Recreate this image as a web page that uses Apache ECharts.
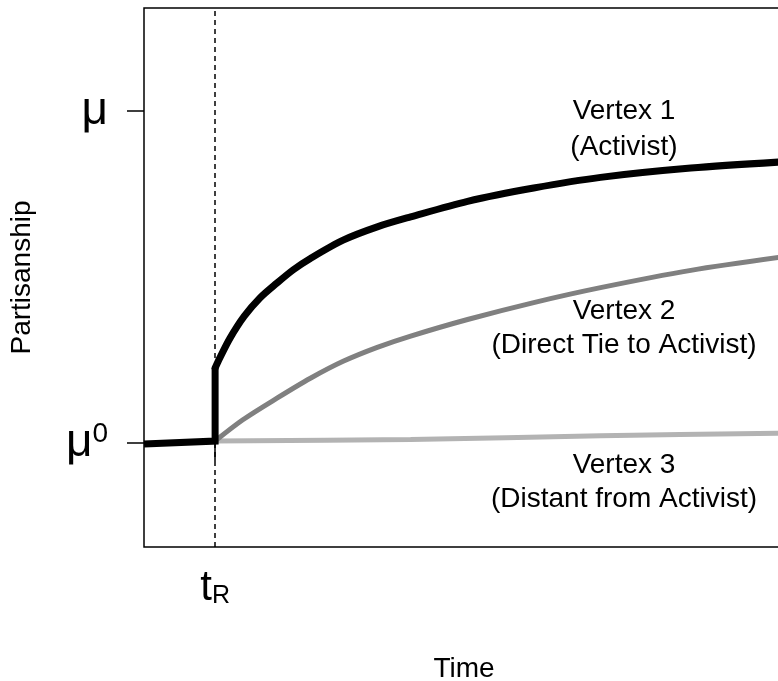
<!DOCTYPE html>
<html>
<head>
<meta charset="utf-8">
<script src="https://cdn.jsdelivr.net/npm/echarts@6/dist/echarts.min.js"></script>
<style>
html,body{margin:0;padding:0;background:#fff;}
#chart{width:778px;height:681px;}
</style>
</head>
<body>
<div id="chart"></div>
<script>
// Time axis: 0 = left edge, 1 = t_R
var tR = 1;
// Partisanship: 0 = mu^0, 1 = mu
var vertex1Step = [[0,-0.003],[1,0.006],[1,0.226]];
var vertex1 = [[1,0.226],[1.07,0.258],[1.21,0.316],[1.41,0.382],[1.63,0.437],[1.87,0.482],[2.10,0.522],[2.34,0.556],[2.80,0.611],[3.28,0.651],[3.75,0.681],[4.55,0.728],[5.48,0.768],[6.42,0.800],[7.69,0.828],[9.0,0.847]];
var vertex2 = [[1,0.006],[1.39,0.070],[1.87,0.135],[2.34,0.195],[2.80,0.246],[3.28,0.288],[3.75,0.322],[4.55,0.372],[5.48,0.423],[6.42,0.468],[7.69,0.520],[9.0,0.561]];
var vertex3 = [[1,0.006],[3.75,0.011],[6.42,0.022],[9.0,0.030]];
var yTicks = [0, 1];
var xTicks = [tR];
var labels = [
  ['Vertex 1', '(Activist)'],
  ['Vertex 2', '(Direct Tie to Activist)'],
  ['Vertex 3', '(Distant from Activist)']
];

var FONT = '"Liberation Sans", Arial, Helvetica, sans-serif';
var chart = echarts.init(document.getElementById('chart'), null, {renderer:'canvas'});

var option = {
  animation: false,
  backgroundColor: '#fff',
  grid: {left:144, top:8, width:640, height:539, show:true, borderColor:'#000', borderWidth:1.5, backgroundColor:'transparent', containLabel:false, outerBoundsMode:'none'},
  xAxis: {
    type:'value', min:0, max:9,
    splitLine:{show:false},
    axisLine:{show:false},
    axisTick:{show:true, inside:false, length:18, customValues:xTicks, lineStyle:{color:'#000', width:1.5}},
    axisLabel:{show:true, customValues:xTicks, margin:20, fontFamily:FONT,
      formatter:function(){ return '{t|t}{r|R}'; },
      rich:{
        t:{fontSize:42, fontFamily:FONT, color:'#000', lineHeight:42, verticalAlign:'bottom'},
        r:{fontSize:25, fontFamily:FONT, color:'#000', lineHeight:16, verticalAlign:'bottom'}
      }
    },
    name:'Time', nameLocation:'middle', nameGap:108,
    nameTextStyle:{fontSize:28, fontFamily:FONT, color:'#000'}
  },
  yAxis: {
    type:'value', min:-0.313, max:1.310,
    splitLine:{show:false},
    axisLine:{show:false},
    axisTick:{show:true, inside:false, length:17, customValues:yTicks, lineStyle:{color:'#000', width:1.5}},
    axisLabel:{show:true, customValues:yTicks, margin:36, fontFamily:FONT,
      formatter:function(v){ return v === 1 ? '{m|\u03bc}' : '{m|\u03bc}{s|0}'; },
      rich:{
        m:{fontSize:46, fontFamily:FONT, color:'#000', lineHeight:46, verticalAlign:'bottom'},
        s:{fontSize:28, fontFamily:FONT, color:'#000', lineHeight:28, verticalAlign:'top'}
      }
    },
    name:'Partisanship', nameLocation:'middle', nameGap:108, nameRotate:90,
    nameTextStyle:{fontSize:28, fontFamily:FONT, color:'#000'}
  },
  series: [
    {type:'line', data:vertex3, showSymbol:false, symbol:'none', smooth:0.3, lineStyle:{color:'#b3b3b3', width:5}, z:2},
    {type:'line', data:vertex2, showSymbol:false, symbol:'none', smooth:0.3, lineStyle:{color:'#808080', width:5}, z:3},
    {type:'line', data:vertex1Step, showSymbol:false, symbol:'none', lineStyle:{color:'#000', width:7, join:'miter'}, z:4,
      markLine:{silent:true, symbol:['none','none'], label:{show:false},
        lineStyle:{color:'#000', width:1.5, type:[5,4]},
        data:[{xAxis:tR}]}
    },
    {type:'line', data:vertex1, showSymbol:false, symbol:'none', smooth:0.3, lineStyle:{color:'#000', width:7, cap:'round'}, z:4}
  ],
  graphic: []
};

chart.setOption(option);

// annotation text placed relative to axis scales
var pos = [[6.75, 1.0, 0.891], [6.75, 0.398, 0.295], [6.75, -0.066, -0.169]];
var g = [];
labels.forEach(function(pair, i){
  var p1 = chart.convertToPixel({gridIndex:0}, [pos[i][0], pos[i][1]]);
  var p2 = chart.convertToPixel({gridIndex:0}, [pos[i][0], pos[i][2]]);
  g.push({type:'text', x:p1[0], y:p1[1], style:{text:pair[0], fontSize:28, fontFamily:FONT, fill:'#000', align:'center', verticalAlign:'middle'}, z:10});
  g.push({type:'text', x:p2[0], y:p2[1], style:{text:pair[1], fontSize:28, fontFamily:FONT, fill:'#000', align:'center', verticalAlign:'middle'}, z:10});
});
chart.setOption({graphic:g});
</script>
</body>
</html>
